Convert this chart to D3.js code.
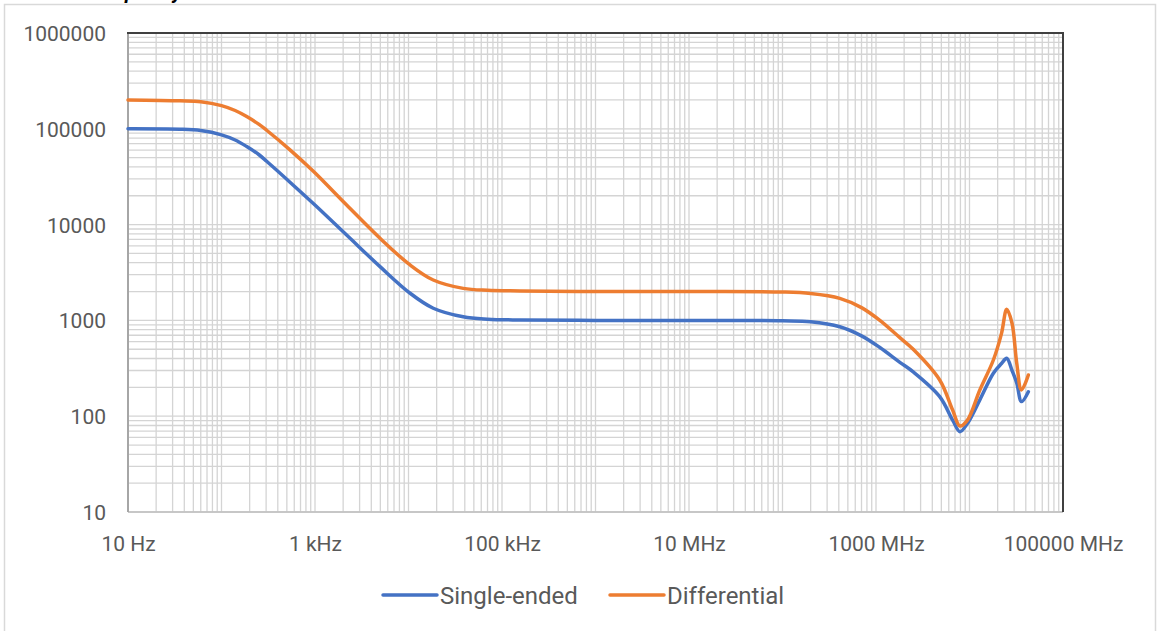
<!DOCTYPE html>
<html>
<head>
<meta charset="utf-8">
<script src="https://cdn.jsdelivr.net/npm/d3@7"></script>
<style>
  html, body { margin: 0; padding: 0; background: #ffffff; }
  svg { display: block; }
</style>
</head>
<body>
<svg id="chart" width="1160" height="631"></svg>
<script>
// Frequency points (Hz) shared by both series
const frequencies = [
  10, 36, 60, 100, 140, 186, 250, 304, 540, 960, 2180, 4960, 10400, 18400,
  38500, 70000, 156000, 1e6, 1e7, 1e8, 2e8, 4.1e8, 7e8, 1.1e9, 1.8e9, 2.5e9,
  4.8e9, 6.6e9, 7.9e9, 9.5e9, 1.29e10, 1.8e10, 2.2e10, 2.5e10, 2.85e10,
  3.2e10, 3.6e10, 4.26e10
];

const singleEnded = [
  100000, 98900, 95800, 86500, 76400, 65300, 53900, 45800, 27700, 16600, 7780,
  3640, 1920, 1340, 1090, 1030, 1010, 1000, 1000, 990, 968, 859, 690, 521,
  365, 290, 160, 91, 69, 84, 148, 281, 355, 402, 300, 222, 142, 180
];

const differential = [
  200000, 196000, 191900, 174700, 155300, 134400, 111900, 96600, 60300, 36000,
  16000, 7200, 3790, 2640, 2160, 2060, 2030, 2000, 2000, 1980, 1910, 1700,
  1360, 1000, 660, 500, 239, 116, 79, 91, 188, 386, 733, 1306, 934, 357, 188, 269
];

const seriesNames = ["Single-ended", "Differential"];
const seriesColors = ["#4472C4", "#ED7D31"];

const xTickValues = [10, 1e3, 1e5, 1e7, 1e9, 1e11];
const xTickLabels = ["10 Hz", "1 kHz", "100 kHz", "10 MHz", "1000 MHz", "100000 MHz"];
const yTickValues = [10, 100, 1000, 10000, 100000, 1000000];
const yTickLabels = ["10", "100", "1000", "10000", "100000", "1000000"];

const svg = d3.select("#chart");
const plot = { left: 128, right: 1063, top: 33, bottom: 512 };

const x = d3.scaleLog().domain([10, 1e11]).range([plot.left, plot.right]);
const y = d3.scaleLog().domain([10, 1e6]).range([plot.bottom, plot.top]);

// Outer chart frame
svg.append("rect")
  .attr("x", 4.5).attr("y", 4.5)
  .attr("width", 1151).attr("height", 640)
  .attr("fill", "#ffffff")
  .attr("stroke", "#d9d9d9").attr("stroke-width", 1.5);

// Title (sits above the frame)
const title = svg.append("text")
  .attr("font-family", "Roboto, sans-serif")
  .attr("font-weight", "bold")
  .attr("font-style", "italic")
  .attr("font-size", 20)
  .attr("fill", "#000000")
  .attr("y", -1.5)
  .text("Frequency");
{
  const node = title.node();
  const qx = node.getStartPositionOfChar(3).x;
  title.attr("x", 119 - qx);
}

// Grid lines (decades plus 2..9 subdivisions)
const gridX = [];
for (let e = 1; e < 11; e++) for (let m = 1; m < 10; m++) gridX.push(m * Math.pow(10, e));
gridX.push(1e11);
const gridY = [];
for (let e = 1; e < 6; e++) for (let m = 1; m < 10; m++) gridY.push(m * Math.pow(10, e));
gridY.push(1e6);

const grid = svg.append("g").attr("stroke", "#d4d4d4").attr("stroke-width", 1.3);
grid.selectAll("line.gx").data(gridX).join("line")
  .attr("x1", d => x(d)).attr("x2", d => x(d))
  .attr("y1", plot.top).attr("y2", plot.bottom);
grid.selectAll("line.gy").data(gridY).join("line")
  .attr("y1", d => y(d)).attr("y2", d => y(d))
  .attr("x1", plot.left).attr("x2", plot.right);

// Plot area borders
svg.append("line")
  .attr("x1", plot.left).attr("x2", plot.right)
  .attr("y1", plot.bottom).attr("y2", plot.bottom)
  .attr("stroke", "#bfbfbf").attr("stroke-width", 1.5);
svg.append("line")
  .attr("x1", plot.left).attr("x2", plot.left)
  .attr("y1", plot.top).attr("y2", plot.bottom)
  .attr("stroke", "#a6a6a6").attr("stroke-width", 2);
svg.append("line")
  .attr("x1", plot.left - 1).attr("x2", plot.right + 1)
  .attr("y1", plot.top).attr("y2", plot.top)
  .attr("stroke", "#404040").attr("stroke-width", 2);
svg.append("line")
  .attr("x1", plot.right).attr("x2", plot.right)
  .attr("y1", plot.top).attr("y2", plot.bottom)
  .attr("stroke", "#404040").attr("stroke-width", 2);

// Axis labels
const yAxis = d3.axisLeft(y).tickValues(yTickValues)
  .tickFormat((d, i) => yTickLabels[i]).tickSize(0).tickPadding(0);
const gy = svg.append("g").attr("transform", `translate(${plot.left - 22},0)`).call(yAxis);
gy.select(".domain").remove();
gy.selectAll("text")
  .attr("font-family", "Roboto, sans-serif").attr("font-size", 21)
  .attr("fill", "#595959").attr("dy", "0.36em");

const xAxis = d3.axisBottom(x).tickValues(xTickValues)
  .tickFormat((d, i) => xTickLabels[i]).tickSize(0).tickPadding(0);
const gx = svg.append("g").attr("transform", `translate(0,${plot.bottom + 31})`).call(xAxis);
gx.select(".domain").remove();
gx.selectAll("text")
  .attr("font-family", "Roboto, sans-serif").attr("font-size", 21)
  .attr("fill", "#595959").attr("dy", "0.36em");

// Series lines
const line = d3.line()
  .x(d => x(d[0]))
  .y(d => y(d[1]))
  .curve(d3.curveCatmullRom.alpha(0.5));

[singleEnded, differential].forEach((vals, i) => {
  svg.append("path")
    .datum(frequencies.map((f, j) => [f, vals[j]]))
    .attr("d", line)
    .attr("fill", "none")
    .attr("stroke", seriesColors[i])
    .attr("stroke-width", 3.5)
    .attr("stroke-linejoin", "round")
    .attr("stroke-linecap", "round");
});

// Legend
const legendItems = [
  { name: seriesNames[0], color: seriesColors[0], x: 383 },
  { name: seriesNames[1], color: seriesColors[1], x: 610 }
];
const lg = svg.append("g");
legendItems.forEach(item => {
  lg.append("line")
    .attr("x1", item.x).attr("x2", item.x + 54)
    .attr("y1", 595).attr("y2", 595)
    .attr("stroke", item.color).attr("stroke-width", 3.5)
    .attr("stroke-linecap", "round");
  lg.append("text")
    .attr("x", item.x + 57).attr("y", 595)
    .attr("dy", "0.36em")
    .attr("font-family", "Roboto, sans-serif").attr("font-size", 24)
    .attr("fill", "#595959")
    .text(item.name);
});
</script>
</body>
</html>
